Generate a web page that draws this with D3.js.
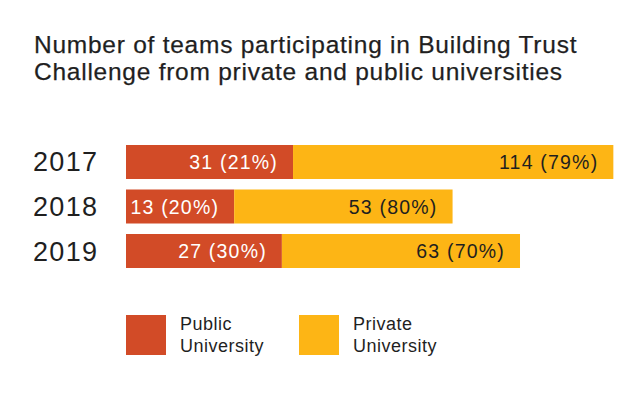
<!DOCTYPE html>
<html>
<head>
<meta charset="utf-8">
<script src="https://cdn.jsdelivr.net/npm/d3@7/dist/d3.min.js"></script>
<style>
  html, body { margin: 0; padding: 0; background: #fff; }
  svg { display: block; font-family: "Liberation Sans", Arial, Helvetica, sans-serif; }
</style>
</head>
<body>
<svg id="chart" width="642" height="399"></svg>
<script>
// ---- data ----
const years = ["2017", "2018", "2019"];
const publicTeams = [31, 13, 27];
const privateTeams = [114, 53, 63];
const publicPct = [21, 20, 30];
const privatePct = [79, 80, 70];
const seriesNames = ["Public\nUniversity", "Private\nUniversity"];
const titleLines = [
  "Number of teams participating in Building Trust",
  "Challenge from private and public universities"
];

// ---- styles ----
const colors = ["#D24B27", "#FDB515"];
const labelColors = ["#ffffff", "#1f1f1f"];
const textColor = "#1f1f1f";

const svg = d3.select("#chart");

// title
svg.append("g").selectAll("text").data(titleLines).join("text")
  .attr("x", 34)
  .attr("y", (d, i) => 53 + i * 27)
  .attr("font-size", 24.5)
  .attr("letter-spacing", 0.75)
  .attr("fill", textColor)
  .attr("stroke", textColor)
  .attr("stroke-width", 0.25)
  .text(d => d);

// scales
const x0 = 126;
const w = d3.scaleSqrt().domain([0, 100]).range([0, 300]);
const y = d3.scaleBand().domain(years).range([145, 268]).paddingInner(0.236).paddingOuter(0);

const rows = years.map((yr, i) => ({
  year: yr,
  segs: [
    { v: publicTeams[i], p: publicPct[i], k: 0 },
    { v: privateTeams[i], p: privatePct[i], k: 1 }
  ]
}));
rows.forEach(r => {
  let acc = x0;
  r.segs.forEach(s => { s.x = acc; s.w = w(s.v); acc += s.w; });
});

const g = svg.append("g");
const row = g.selectAll("g.row").data(rows).join("g").attr("class", "row");

row.append("text")
  .attr("x", 33)
  .attr("y", d => y(d.year) + y.bandwidth() / 2 + 9.5)
  .attr("font-size", 27)
  .attr("letter-spacing", 1.3)
  .attr("fill", textColor)
  .text(d => d.year);

const seg = row.selectAll("g.seg").data(d => d.segs.map(s => ({ ...s, year: d.year }))).join("g").attr("class", "seg");
seg.append("rect")
  .attr("x", d => d.x)
  .attr("y", d => y(d.year))
  .attr("width", d => d.w)
  .attr("height", y.bandwidth())
  .attr("fill", d => colors[d.k]);
seg.append("text")
  .attr("x", d => d.x + d.w - 15)
  .attr("y", d => y(d.year) + y.bandwidth() / 2 + 7)
  .attr("text-anchor", "end")
  .attr("font-size", 19.5)
  .attr("letter-spacing", 1.2)
  .attr("fill", d => labelColors[d.k])
  .text(d => `${d.v} (${d.p}%)`);

// legend
const legX = [126, 299];
const leg = svg.append("g").selectAll("g").data(seriesNames).join("g")
  .attr("transform", (d, i) => `translate(${legX[i]},315)`);
leg.append("rect").attr("width", 40).attr("height", 40).attr("fill", (d, i) => colors[i]);
leg.append("text")
  .attr("x", 54)
  .attr("font-size", 18)
  .attr("letter-spacing", 0.5)
  .attr("fill", textColor)
  .selectAll("tspan").data(d => d.split("\n")).join("tspan")
  .attr("x", 54)
  .attr("y", (d, i) => 14.5 + i * 22.5)
  .text(d => d);
</script>
</body>
</html>
